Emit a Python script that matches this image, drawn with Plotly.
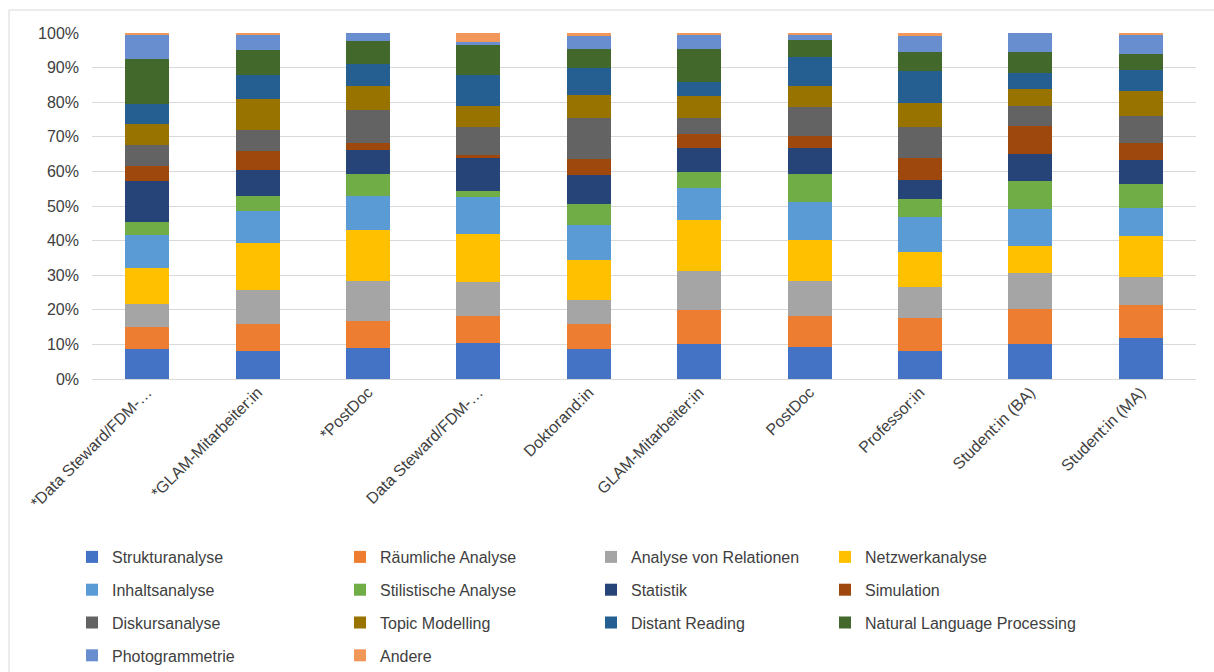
import plotly.graph_objects as go

categories = ["*Data Steward/FDM-…", "*GLAM-Mitarbeiter:in", "*PostDoc", "Data Steward/FDM-…",
              "Doktorand:in", "GLAM-Mitarbeiter:in", "PostDoc", "Professor:in",
              "Student:in (BA)", "Student:in (MA)"]

strukturanalyse = [8.7, 8.1, 9.1, 10.3, 8.8, 10.1, 9.3, 8.1, 10.0, 11.8]
raeumliche_analyse = [6.4, 7.9, 7.8, 7.9, 7.0, 9.9, 8.9, 9.6, 10.3, 9.7]
analyse_von_relationen = [6.6, 9.7, 11.5, 9.8, 7.1, 11.1, 10.2, 8.9, 10.3, 7.9]
netzwerkanalyse = [10.5, 13.6, 14.7, 13.9, 11.4, 14.9, 11.8, 10.2, 7.7, 12.0]
inhaltsanalyse = [9.5, 9.4, 9.8, 10.7, 10.3, 9.2, 10.9, 10.0, 10.8, 8.0]
stilistische_analyse = [3.6, 4.3, 6.4, 1.6, 6.1, 4.5, 8.2, 5.2, 8.0, 7.1]
statistik = [12.0, 7.5, 6.9, 9.6, 8.4, 7.1, 7.4, 5.6, 7.9, 6.9]
simulation = [4.2, 5.5, 2.0, 1.0, 4.6, 4.0, 3.5, 6.3, 8.2, 4.8]
diskursanalyse = [6.1, 6.0, 9.6, 7.9, 11.8, 4.5, 8.5, 8.8, 5.8, 7.9]
topic_modelling = [6.0, 9.0, 6.9, 6.3, 6.7, 6.6, 6.0, 7.1, 4.9, 7.2]
distant_reading = [5.9, 6.8, 6.4, 8.8, 7.7, 3.9, 8.3, 9.3, 4.4, 6.0]
nlp = [13.1, 7.4, 6.5, 8.8, 5.4, 9.7, 4.9, 5.5, 6.3, 4.7]
photogrammetrie = [6.9, 4.3, 2.4, 0.9, 3.7, 4.0, 1.6, 4.6, 5.4, 5.3]
andere = [0.5, 0.5, 0.0, 2.5, 1.0, 0.5, 0.5, 0.8, 0.0, 0.7]

y_tick_values = [0, 10, 20, 30, 40, 50, 60, 70, 80, 90, 100]
y_tick_labels = ["0%", "10%", "20%", "30%", "40%", "50%", "60%", "70%", "80%", "90%", "100%"]

series_names = ["Strukturanalyse", "Räumliche Analyse", "Analyse von Relationen", "Netzwerkanalyse",
                "Inhaltsanalyse", "Stilistische Analyse", "Statistik", "Simulation",
                "Diskursanalyse", "Topic Modelling", "Distant Reading", "Natural Language Processing",
                "Photogrammetrie", "Andere"]
series_values = [strukturanalyse, raeumliche_analyse, analyse_von_relationen, netzwerkanalyse,
                 inhaltsanalyse, stilistische_analyse, statistik, simulation, diskursanalyse,
                 topic_modelling, distant_reading, nlp, photogrammetrie, andere]
colors = ["#4472C4", "#ED7D31", "#A5A5A5", "#FFC000", "#5B9BD5", "#70AD47", "#264478",
          "#9E480E", "#636363", "#997300", "#255E91", "#43682B", "#698ED0", "#F1975A"]

FONT = "Liberation Sans, Arial, sans-serif"
TXT = "#404040"

# plot area geometry (pixels)
L, R, T, B = 92, 18, 33, 293
W, H = 1214, 672
PW, PH = W - L - R, H - T - B

def px(x):
    return (x - L) / PW

def py(y):
    return (H - B - y) / PH

legend_keys = ["legend", "legend2", "legend3", "legend4"]
legend_text_x = [112, 380, 631, 865]

fig = go.Figure()
for i, (name, vals, col) in enumerate(zip(series_names, series_values, colors)):
    fig.add_trace(go.Bar(
        x=categories, y=vals, name=name, marker=dict(color=col, line=dict(width=0)),
        legend=legend_keys[i % 4], legendgroup=name,
    ))

layout_legends = {}
for k, tx in zip(legend_keys, legend_text_x):
    layout_legends[k] = dict(
        x=px(tx - 40), xanchor="left", y=py(540), yanchor="top",
        orientation="v", traceorder="grouped", tracegroupgap=9,
        font=dict(family=FONT, size=16, color=TXT), bgcolor="rgba(0,0,0,0)",
        itemwidth=30,
    )

fig.update_layout(
    width=W, height=H,
    margin=dict(l=L, r=R, t=T, b=B, autoexpand=False),
    barmode="stack", barnorm="percent", bargap=0.6,
    plot_bgcolor="white", paper_bgcolor="white",
    font=dict(family=FONT, size=16, color=TXT),
    xaxis=dict(tickangle=-45, showgrid=False, showline=False, ticks="",
               tickfont=dict(family=FONT, size=16, color=TXT)),
    yaxis=dict(range=[0, 100], tickmode="array", tickvals=y_tick_values, ticktext=y_tick_labels,
               showgrid=True, gridcolor="#D9D9D9", gridwidth=1, zeroline=True,
               zerolinecolor="#D9D9D9", zerolinewidth=1, showline=False,
               ticklabelstandoff=12, tickfont=dict(family=FONT, size=16, color=TXT)),
    shapes=[dict(type="rect", xref="paper", yref="paper",
                 x0=px(9), x1=px(1230), y0=py(690), y1=py(10),
                 line=dict(color="#D9D9D9", width=1), fillcolor="rgba(0,0,0,0)", layer="below")],
    showlegend=True,
    **layout_legends,
)

fig.write_html("out.html")
